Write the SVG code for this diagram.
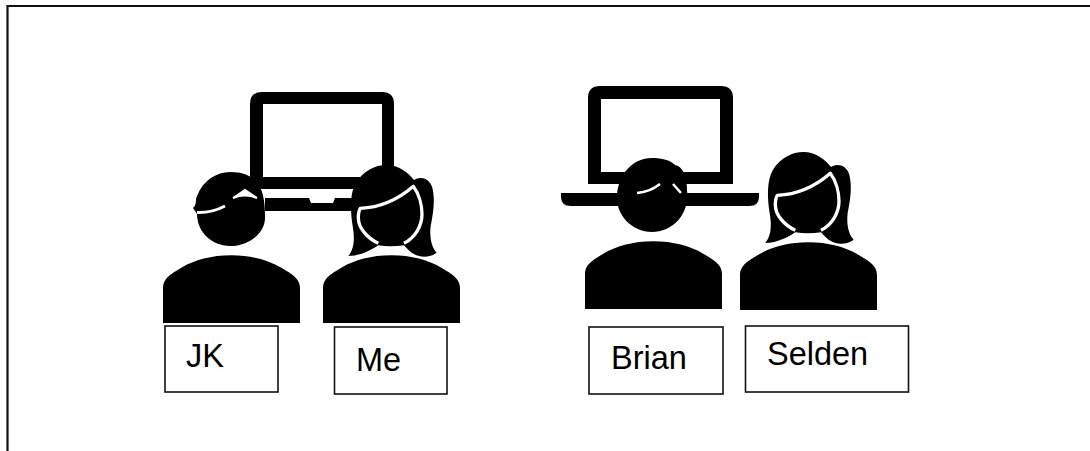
<svg xmlns="http://www.w3.org/2000/svg" width="1090" height="451" viewBox="0 0 1090 451">
<style>
.frame{fill:none;stroke:#111;stroke-width:2.2}
.box{fill:#fff;stroke:#111;stroke-width:1.6}
.lbl{font-family:"Liberation Sans",Arial,sans-serif;font-size:32.500px;fill:#000}
</style>
<defs>
<path id="body" d="M105 686V580C105 555 125 540 160 520C200 497 250 483 310 483C370 483 420 497 460 520C495 540 516 555 516 580V686Z"/>
<g id="womanHead">
<path d="M645 490C662 470 665 440 658 400C650 350 650 300 668 270C690 235 725 217 760 217C795 217 825 240 842 262C860 250 888 255 897 285C906 320 900 360 892 400C888 435 895 465 910 480C890 495 860 497 835 480C825 472 818 465 812 458C785 462 760 462 735 458C715 472 680 490 645 490Z"/>
<path d="M681 347C740 345 795 320 840 281C858 305 866 340 866 365C866 415 825 456 772 456C720 456 675 415 675 375C675 365 676 355 681 347Z"/>
<path d="M735 452C700 435 675 405 675 375C675 365 676 355 681 347C740 345 795 320 840 281C858 305 866 340 866 365C866 400 845 435 812 452" fill="none" stroke="#fff" stroke-width="10" stroke-linejoin="round"/>
</g>
</defs>
<path class="frame" d="M7.500 451V6H1090"/>
<g id="laptop-left">
<path fill-rule="evenodd" d="M262 92H382Q394 92 394 104V189H250V104Q250 92 262 92ZM263 104V177H382V104Z"/>
<path d="M265 198H309L311 203H333L335 198H355V211H265Z"/>
</g>
<g id="laptop-right">
<path fill-rule="evenodd" d="M600 86H721Q733 86 733 98V184H588V98Q588 86 600 86ZM601 99V172H720V99Z"/>
<path d="M561 193H759V197Q759 206 749 206H571Q561 206 561 197Z"/>
</g>
<g id="person-jk">
<use href="#body" transform="translate(163,323) scale(.3333) translate(-105,-686)"/>
<path d="M193 208C197 205 195 200 197 196C203 180 217 172 230 172C243 172 253 176 258 184C264 192 265 205 265 216C266 232 250 246 230 246C212 246 197 232 197 214Z"/>
<path d="M197 212.500Q212 213 225 206" fill="none" stroke="#fff" stroke-width="3"/>
<path d="M233 198L245 190L257 198Q245 193 233 198Z" fill="#fff" stroke="#fff" stroke-width="2"/>
</g>
<g id="person-me">
<use href="#body" transform="translate(323,323) scale(.3333) translate(-105,-686)"/>
<use href="#womanHead" transform="translate(323,323) scale(.3333) translate(-569,-691)"/>
</g>
<g id="person-brian">
<use href="#body" transform="translate(585,309) scale(.3333) translate(-105,-686)"/>
<path d="M617 196C618 175 632 158 652 158C662 158 670 160 675 165C682 166 687 175 687 190C690 215 672 232 652 232C632 232 616 215 617 196Z"/>
<path d="M637 193Q650 192 660 184M673 184L681 193" fill="none" stroke="#fff" stroke-width="2.500"/>
</g>
<g id="person-selden">
<use href="#body" transform="translate(740,310) scale(.3333) translate(-105,-686)"/>
<use href="#womanHead" transform="translate(740,310) scale(.3333) translate(-569,-691)"/>
</g>
<g id="label-jk"><rect class="box" x="165" y="326" width="113" height="66"/><text class="lbl" x="186" y="367">JK</text></g>
<g id="label-me"><rect class="box" x="334.500" y="327" width="112.500" height="67"/><text class="lbl" x="356" y="371">Me</text></g>
<g id="label-brian"><rect class="box" x="589" y="327" width="134" height="67"/><text class="lbl" x="611" y="369">Brian</text></g>
<g id="label-selden"><rect class="box" x="745.500" y="326" width="163" height="66"/><text class="lbl" x="767" y="365">Selden</text></g>
</svg>
